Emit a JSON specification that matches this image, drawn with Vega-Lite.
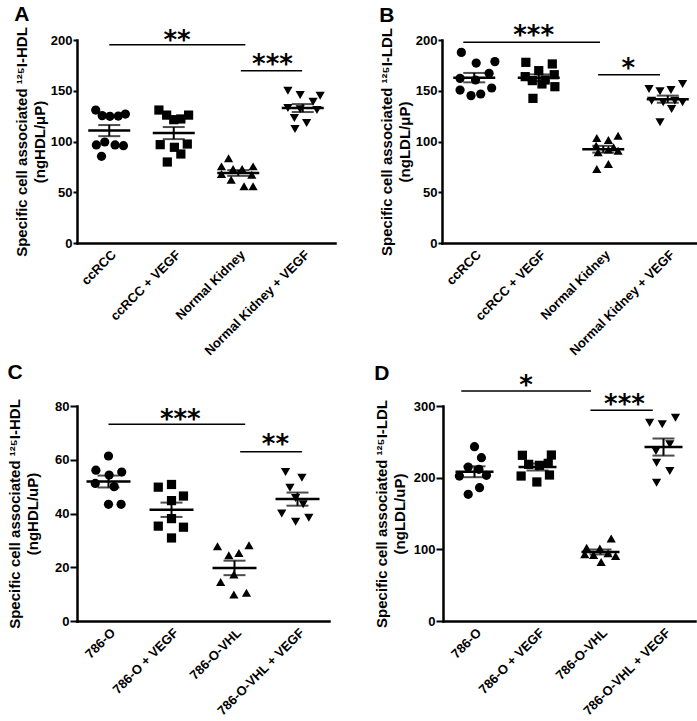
{
"$schema":"https://vega.github.io/schema/vega-lite/v6.json",
"padding":{"left":7,"top":3,"right":0,"bottom":0},
"background":"white",
"bounds":"full",
"spacing":3,
"datasets":{
"A":[{"group":1,"jx":0.79,"v":131},{"group":1,"jx":0.89,"v":125.5},{"group":1,"jx":1.01,"v":124.8},{"group":1,"jx":1.14,"v":125.1},{"group":1,"jx":1.25,"v":127},{"group":1,"jx":0.80,"v":96.6},{"group":1,"jx":0.93,"v":99.5},{"group":1,"jx":1.09,"v":96.6},{"group":1,"jx":1.22,"v":95.9},{"group":1,"jx":0.88,"v":85.4},
{"group":2,"jx":1.77,"v":131},{"group":2,"jx":1.89,"v":126},{"group":2,"jx":2.0,"v":121.5},{"group":2,"jx":2.11,"v":122.2},{"group":2,"jx":2.23,"v":126},{"group":2,"jx":1.79,"v":96.9},{"group":2,"jx":2.01,"v":94.3},{"group":2,"jx":2.21,"v":97.5},{"group":2,"jx":2.11,"v":87.7},{"group":2,"jx":1.90,"v":79.8},
{"group":3,"jx":2.74,"v":75.5},{"group":3,"jx":2.85,"v":83.4},{"group":3,"jx":2.92,"v":72.9},{"group":3,"jx":3.06,"v":73},{"group":3,"jx":3.23,"v":75.5},{"group":3,"jx":2.74,"v":68},{"group":3,"jx":3.21,"v":67.3},{"group":3,"jx":2.89,"v":62.4},{"group":3,"jx":3.09,"v":55.8},{"group":3,"jx":3.23,"v":55.8},
{"group":4,"jx":3.77,"v":150},{"group":4,"jx":3.96,"v":145.8},{"group":4,"jx":4.27,"v":145},{"group":4,"jx":4.16,"v":139.2},{"group":4,"jx":3.77,"v":133},{"group":4,"jx":3.96,"v":131.7},{"group":4,"jx":4.22,"v":131},{"group":4,"jx":3.87,"v":123.2},{"group":4,"jx":4.06,"v":118.2},{"group":4,"jx":3.88,"v":112.3}],
"Asig":[{"x1":1.0,"x2":3.11,"y":195.4,"tx":2.05,"ty":206,"label":"**"},{"x1":3.04,"x2":3.99,"y":169.8,"tx":3.53,"ty":182,"label":"***"}],
"B":[{"group":1,"jx":0.80,"v":187.8},{"group":1,"jx":1.03,"v":177.3},{"group":1,"jx":1.32,"v":178.7},{"group":1,"jx":0.78,"v":162.2},{"group":1,"jx":1.02,"v":160.6},{"group":1,"jx":1.23,"v":167.2},{"group":1,"jx":0.78,"v":150.7},{"group":1,"jx":1.27,"v":152.7},{"group":1,"jx":0.95,"v":145.2},{"group":1,"jx":1.10,"v":146.8},
{"group":2,"jx":1.80,"v":178},{"group":2,"jx":2.21,"v":176.4},{"group":2,"jx":2.00,"v":169.8},{"group":2,"jx":1.79,"v":163.9},{"group":2,"jx":2.24,"v":165.8},{"group":2,"jx":1.90,"v":160},{"group":2,"jx":2.10,"v":160.6},{"group":2,"jx":2.25,"v":154},{"group":2,"jx":2.05,"v":156.7},{"group":2,"jx":1.91,"v":142.5},
{"group":3,"jx":2.90,"v":103.4},{"group":3,"jx":3.23,"v":105.7},{"group":3,"jx":3.08,"v":101.5},{"group":3,"jx":2.89,"v":95.9},{"group":3,"jx":3.08,"v":92},{"group":3,"jx":3.23,"v":91},{"group":3,"jx":2.92,"v":89.3},{"group":3,"jx":3.08,"v":77.8},{"group":3,"jx":2.90,"v":72.9},{"group":3,"jx":3.16,"v":94.3},
{"group":4,"jx":3.71,"v":151.7},{"group":4,"jx":3.88,"v":149.4},{"group":4,"jx":4.05,"v":150.7},{"group":4,"jx":4.23,"v":156.7},{"group":4,"jx":3.75,"v":140.2},{"group":4,"jx":3.93,"v":138.6},{"group":4,"jx":4.11,"v":140.2},{"group":4,"jx":4.23,"v":138.6},{"group":4,"jx":4.06,"v":132},{"group":4,"jx":3.88,"v":118.9}],
"Bsig":[{"x1":0.83,"x2":2.95,"y":197.7,"tx":1.92,"ty":210.8,"label":"***"},{"x1":2.92,"x2":3.88,"y":165.8,"tx":3.39,"ty":178,"label":"*"}],
"C":[{"group":1,"jx":1.0,"v":61.4},{"group":1,"jx":0.80,"v":56.1},{"group":1,"jx":1.01,"v":54.3},{"group":1,"jx":1.21,"v":55.4},{"group":1,"jx":0.79,"v":51.2},{"group":1,"jx":1.09,"v":50},{"group":1,"jx":1.0,"v":43.4},{"group":1,"jx":1.20,"v":43.4},
{"group":2,"jx":1.79,"v":49.8},{"group":2,"jx":2.0,"v":50.8},{"group":2,"jx":2.19,"v":46.5},{"group":2,"jx":2.0,"v":44.8},{"group":2,"jx":2.0,"v":38.1},{"group":2,"jx":1.79,"v":35.3},{"group":2,"jx":2.19,"v":34.9},{"group":2,"jx":2.0,"v":30.9},
{"group":3,"jx":2.73,"v":27.8},{"group":3,"jx":2.91,"v":24.5},{"group":3,"jx":3.07,"v":25.3},{"group":3,"jx":3.23,"v":28.2},{"group":3,"jx":2.99,"v":17.3},{"group":3,"jx":2.78,"v":14.5},{"group":3,"jx":2.99,"v":9.9},{"group":3,"jx":3.19,"v":10.5},
{"group":4,"jx":3.81,"v":55.4},{"group":4,"jx":4.07,"v":53.3},{"group":4,"jx":3.88,"v":49.6},{"group":4,"jx":3.97,"v":45.8},{"group":4,"jx":4.09,"v":43.4},{"group":4,"jx":3.75,"v":40},{"group":4,"jx":4.18,"v":38.4},{"group":4,"jx":3.97,"v":36.9}],
"Csig":[{"x1":1.0,"x2":3.17,"y":73.2,"tx":2.14,"ty":77.5,"label":"***"},{"x1":3.09,"x2":4.07,"y":63.0,"tx":3.65,"ty":68.2,"label":"**"}],
"D":[{"group":1,"jx":1.0,"v":243.3},{"group":1,"jx":1.11,"v":227.9},{"group":1,"jx":0.90,"v":214.9},{"group":1,"jx":1.07,"v":211.6},{"group":1,"jx":0.76,"v":202.3},{"group":1,"jx":1.19,"v":203.3},{"group":1,"jx":1.08,"v":186},{"group":1,"jx":0.90,"v":176.7},
{"group":2,"jx":1.76,"v":231.2},{"group":2,"jx":2.22,"v":231.6},{"group":2,"jx":1.86,"v":218.6},{"group":2,"jx":2.03,"v":217.2},{"group":2,"jx":2.17,"v":220},{"group":2,"jx":1.74,"v":202.3},{"group":2,"jx":1.99,"v":194},{"group":2,"jx":2.19,"v":203.7},
{"group":3,"jx":2.78,"v":102.3},{"group":3,"jx":2.99,"v":101},{"group":3,"jx":3.17,"v":115},{"group":3,"jx":3.24,"v":90.7},{"group":3,"jx":2.89,"v":92},{"group":3,"jx":3.01,"v":82.3},{"group":3,"jx":3.12,"v":94.4},{"group":3,"jx":2.75,"v":93},
{"group":4,"jx":3.78,"v":276.7},{"group":4,"jx":3.98,"v":274.4},{"group":4,"jx":4.19,"v":283.7},{"group":4,"jx":3.88,"v":237.2},{"group":4,"jx":4.10,"v":246.5},{"group":4,"jx":3.89,"v":220.9},{"group":4,"jx":4.10,"v":209.3},{"group":4,"jx":3.89,"v":193}],
"Dsig":[{"x1":0.79,"x2":2.85,"y":320.9,"tx":1.82,"ty":337,"label":"*"},{"x1":2.84,"x2":3.83,"y":294,"tx":3.38,"ty":311.6,"label":"***"}]
},
"vconcat":[
{"hconcat":[
{"title":{"text":"A","offset":2},"width":258,"height":203,"layer":[
{"data":{"name":"A"},"mark":{"type":"point","filled":true,"size":85,"color":"black","opacity":1},"encoding":{
"x":{"field":"jx","type":"quantitative","scale":{"domain":[0.5,4.5],"nice":false,"zero":false},"axis":{"title":null,"values":[1,2,3,4],"labelExpr":"['','ccRCC','ccRCC + VEGF','Normal Kidney','Normal Kidney + VEGF'][datum.value]"}},
"y":{"field":"v","type":"quantitative","scale":{"domain":[0,200],"nice":false},"axis":{"values":[0,50,100,150,200],"titlePadding":3,"tickSize":4}},
"shape":{"field":"group","type":"nominal","scale":{"domain":[1,2,3,4],"range":["circle","square","triangle-up","triangle-down"]},"legend":null}}},
{"data":{"name":"A"},"mark":{"type":"errorbar","extent":"stderr","orient":"vertical","thickness":2,"color":"black","ticks":{"size":22,"thickness":2,"color":"black"}},"encoding":{"x":{"field":"group","type":"quantitative"},"y":{"field":"v","type":"quantitative","title":["Specific cell associated ¹²⁵I-HDL","(ngHDL/μP)"],"axis":{"values":[0,50,100,150,200],"titlePadding":3,"tickSize":4}}}},
{"data":{"name":"A"},"mark":{"type":"tick","orient":"horizontal","size":42,"thickness":2.5,"color":"black","opacity":1},"encoding":{"x":{"field":"group","type":"quantitative"},"y":{"aggregate":"mean","field":"v","type":"quantitative"}}},
{"data":{"name":"Asig"},"mark":{"type":"rule","strokeWidth":1.5,"color":"black"},"encoding":{"x":{"field":"x1","type":"quantitative"},"x2":{"field":"x2"},"y":{"field":"y","type":"quantitative"}}},
{"data":{"name":"Asig"},"mark":{"type":"text","font":"DejaVu Sans","fontWeight":"bold","fontSize":26,"dy":7,"color":"black"},"encoding":{"x":{"field":"tx","type":"quantitative"},"y":{"field":"ty","type":"quantitative"},"text":{"field":"label"}}}
]},
{"title":{"text":"B","offset":-3},"width":258,"height":203,"layer":[
{"data":{"name":"B"},"mark":{"type":"point","filled":true,"size":85,"color":"black","opacity":1},"encoding":{
"x":{"field":"jx","type":"quantitative","scale":{"domain":[0.5,4.5],"nice":false,"zero":false},"axis":{"title":null,"values":[1,2,3,4],"labelExpr":"['','ccRCC','ccRCC + VEGF','Normal Kidney','Normal Kidney + VEGF'][datum.value]"}},
"y":{"field":"v","type":"quantitative","scale":{"domain":[0,200],"nice":false},"axis":{"values":[0,50,100,150,200],"titlePadding":3,"tickSize":4}},
"shape":{"field":"group","type":"nominal","scale":{"domain":[1,2,3,4],"range":["circle","square","triangle-up","triangle-down"]},"legend":null}}},
{"data":{"name":"B"},"mark":{"type":"errorbar","extent":"stderr","orient":"vertical","thickness":2,"color":"black","ticks":{"size":22,"thickness":2,"color":"black"}},"encoding":{"x":{"field":"group","type":"quantitative"},"y":{"field":"v","type":"quantitative","title":["Specific cell associated ¹²⁵I-LDL","(ngLDL/μP)"],"axis":{"values":[0,50,100,150,200],"titlePadding":3,"tickSize":4}}}},
{"data":{"name":"B"},"mark":{"type":"tick","orient":"horizontal","size":42,"thickness":2.5,"color":"black","opacity":1},"encoding":{"x":{"field":"group","type":"quantitative"},"y":{"aggregate":"mean","field":"v","type":"quantitative"}}},
{"data":{"name":"Bsig"},"mark":{"type":"rule","strokeWidth":1.5,"color":"black"},"encoding":{"x":{"field":"x1","type":"quantitative"},"x2":{"field":"x2"},"y":{"field":"y","type":"quantitative"}}},
{"data":{"name":"Bsig"},"mark":{"type":"text","font":"DejaVu Sans","fontWeight":"bold","fontSize":26,"dy":7,"color":"black"},"encoding":{"x":{"field":"tx","type":"quantitative"},"y":{"field":"ty","type":"quantitative"},"text":{"field":"label"}}}
]}
],"bounds":"flush","spacing":107},
{"hconcat":[
{"title":{"text":"C","offset":16},"width":252,"height":215,"layer":[
{"data":{"name":"C"},"mark":{"type":"point","filled":true,"size":85,"color":"black","opacity":1},"encoding":{
"x":{"field":"jx","type":"quantitative","scale":{"domain":[0.5,4.5],"nice":false,"zero":false},"axis":{"title":null,"values":[1,2,3,4],"labelExpr":"['','786-O','786-O + VEGF','786-O-VHL','786-O-VHL + VEGF'][datum.value]"}},
"y":{"field":"v","type":"quantitative","scale":{"domain":[0,80],"nice":false},"axis":{"values":[0,20,40,60,80],"titlePadding":14,"tickSize":7}},
"shape":{"field":"group","type":"nominal","scale":{"domain":[1,2,3,4],"range":["circle","square","triangle-up","triangle-down"]},"legend":null}}},
{"data":{"name":"C"},"mark":{"type":"errorbar","extent":"stderr","orient":"vertical","thickness":2,"color":"black","ticks":{"size":22,"thickness":2,"color":"black"}},"encoding":{"x":{"field":"group","type":"quantitative"},"y":{"field":"v","type":"quantitative","title":["Specific cell associated ¹²⁵I-HDL","(ngHDL/uP)"],"axis":{"values":[0,20,40,60,80],"titlePadding":14,"tickSize":7}}}},
{"data":{"name":"C"},"mark":{"type":"tick","orient":"horizontal","size":44,"thickness":2.5,"color":"black","opacity":1},"encoding":{"x":{"field":"group","type":"quantitative"},"y":{"aggregate":"mean","field":"v","type":"quantitative"}}},
{"data":{"name":"Csig"},"mark":{"type":"rule","strokeWidth":1.5,"color":"black"},"encoding":{"x":{"field":"x1","type":"quantitative"},"x2":{"field":"x2"},"y":{"field":"y","type":"quantitative"}}},
{"data":{"name":"Csig"},"mark":{"type":"text","font":"DejaVu Sans","fontWeight":"bold","fontSize":26,"dy":7,"color":"black"},"encoding":{"x":{"field":"tx","type":"quantitative"},"y":{"field":"ty","type":"quantitative"},"text":{"field":"label"}}}
]},
{"title":{"text":"D","offset":-11},"width":252,"height":215,"layer":[
{"data":{"name":"D"},"mark":{"type":"point","filled":true,"size":85,"color":"black","opacity":1},"encoding":{
"x":{"field":"jx","type":"quantitative","scale":{"domain":[0.5,4.5],"nice":false,"zero":false},"axis":{"title":null,"values":[1,2,3,4],"labelExpr":"['','786-O','786-O + VEGF','786-O-VHL','786-O-VHL + VEGF'][datum.value]"}},
"y":{"field":"v","type":"quantitative","scale":{"domain":[0,300],"nice":false},"axis":{"values":[0,100,200,300],"titlePadding":6,"tickSize":7}},
"shape":{"field":"group","type":"nominal","scale":{"domain":[1,2,3,4],"range":["circle","square","triangle-up","triangle-down"]},"legend":null}}},
{"data":{"name":"D"},"mark":{"type":"errorbar","extent":"stderr","orient":"vertical","thickness":2,"color":"black","ticks":{"size":22,"thickness":2,"color":"black"}},"encoding":{"x":{"field":"group","type":"quantitative"},"y":{"field":"v","type":"quantitative","title":["Specific cell associated ¹²⁵I-LDL","(ngLDL/uP)"],"axis":{"values":[0,100,200,300],"titlePadding":6,"tickSize":7}}}},
{"data":{"name":"D"},"mark":{"type":"tick","orient":"horizontal","size":38,"thickness":2.5,"color":"black","opacity":1},"encoding":{"x":{"field":"group","type":"quantitative"},"y":{"aggregate":"mean","field":"v","type":"quantitative"}}},
{"data":{"name":"Dsig"},"mark":{"type":"rule","strokeWidth":1.5,"color":"black"},"encoding":{"x":{"field":"x1","type":"quantitative"},"x2":{"field":"x2"},"y":{"field":"y","type":"quantitative"}}},
{"data":{"name":"Dsig"},"mark":{"type":"text","font":"DejaVu Sans","fontWeight":"bold","fontSize":26,"dy":7,"color":"black"},"encoding":{"x":{"field":"tx","type":"quantitative"},"y":{"field":"ty","type":"quantitative"},"text":{"field":"label"}}}
]}
],"bounds":"flush","spacing":114}
],
"config":{
"view":{"stroke":null},
"font":"Liberation Sans",
"title":{"anchor":"start","frame":"bounds","fontSize":21,"fontWeight":"bold","font":"Liberation Sans","color":"black"},
"axis":{"grid":false,"labelFont":"Liberation Sans","labelFontWeight":"bold","labelFontSize":13,"labelColor":"black","titleFont":"Liberation Sans","titleFontWeight":"bold","titleFontSize":15,"titleColor":"black","titleLineHeight":18,"domainColor":"black","domainWidth":2.5,"tickColor":"black","tickWidth":2,"domainCap":"square"},
"axisX":{"ticks":false,"labelAngle":-45,"labelAlign":"right","labelBaseline":"top","labelPadding":5,"labelOverlap":false,"labelBound":false},
"axisY":{"labelPadding":1}
}
}
